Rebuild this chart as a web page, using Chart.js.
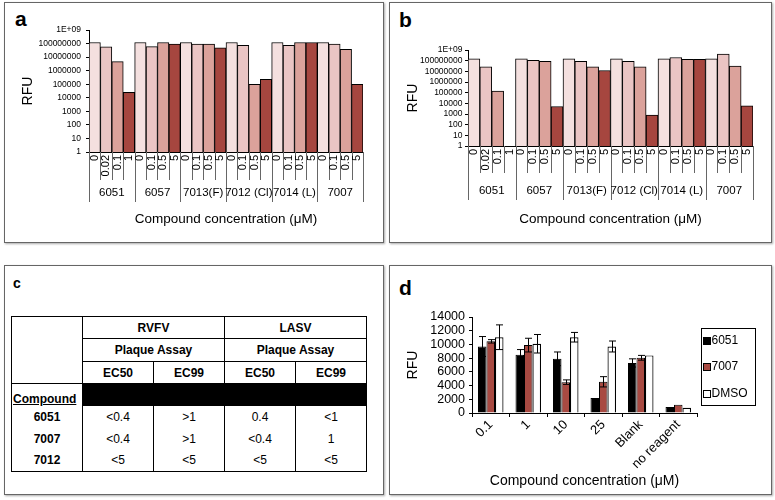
<!DOCTYPE html>
<html>
<head>
<meta charset="utf-8">
<script src="https://cdn.jsdelivr.net/npm/chart.js@4.4.1/dist/chart.umd.min.js"></script>
<style>
  body { margin: 0; width: 775px; height: 500px; overflow: hidden; background: #fff; font-family: "Liberation Sans", Arial, sans-serif; }
  .panel { position: absolute; box-sizing: border-box; border: 1px solid #666; box-shadow: 1px 1px 2px #aaa; background: #fff; }
  .letter { position: absolute; font-weight: bold; font-size: 21px; line-height: 1; }
  canvas { position: absolute; }
  #tableC { position: absolute; left: 11px; top: 316px; border-collapse: collapse; table-layout: fixed; font: bold 12px "Liberation Sans", Arial, sans-serif; }
  #tableC td { border: 1px solid #000; text-align: center; padding: 0; }
  #tableC td.val { font-weight: normal; border-top: none; border-bottom: none; }
  #tableC td.cmp { border-top: none; border-bottom: none; }
  #tableC tr.last td { border-bottom: 1px solid #000; }
  #tableC td.black { background: #000; }
  #tableC td.compound { text-decoration: underline; vertical-align: bottom; text-align: left; padding-left: 1px; border-bottom: none; }
</style>
</head>
<body>
<div class="panel" style="left:4px;top:2px;width:380px;height:241px"></div>
<div class="panel" style="left:389px;top:2px;width:383px;height:241px"></div>
<div class="panel" style="left:4px;top:265px;width:380px;height:230px"></div>
<div class="panel" style="left:389px;top:265px;width:383px;height:230px"></div>

<div class="letter" style="left:15px;top:8px">a</div>
<div class="letter" style="left:399px;top:9px">b</div>
<div class="letter" style="left:13px;top:276px;font-size:14px">c</div>
<div class="letter" style="left:399px;top:277px">d</div>

<canvas id="chartA" width="378" height="238" style="left:5px;top:3px"></canvas>
<canvas id="chartB" width="381" height="238" style="left:390px;top:3px"></canvas>
<canvas id="chartD" width="381" height="228" style="left:390px;top:266px"></canvas>
<table id="tableC"></table>

<script>
// Datos paneles a y b (escala log)
const concLabels = ['0', '0.02', '0.1', '1', '0', '0.1', '0.5', '5', '0', '0.1', '0.5', '5',
  '0', '0.1', '0.5', '5', '0', '0.1', '0.5', '5', '0', '0.1', '0.5', '5'];
const compoundGroups = ['6051', '6057', '7013(F)', '7012 (Cl)', '7014 (L)', '7007'];
const rfuA = [1.2e8, 5.8e7, 4.6e6, 2.5e4, 1.2e8, 6e7, 1.2e8, 9.3e7, 1.2e8, 9e7, 9e7, 4.8e7,
  1.2e8, 7.4e7, 9.7e4, 2.3e5, 1.2e8, 7.4e7, 1.2e8, 1.2e8, 1.2e8, 9e7, 3.8e7, 9.7e4];
const rfuB = [1.5e8, 2.7e7, 1.4e5, null, 1.5e8, 1.1e8, 8.5e7, 5e3, 1.5e8, 8.5e7, 2.7e7, 1.2e7,
  1.5e8, 8.5e7, 2.7e7, 800, 1.5e8, 2e8, 1.3e8, 1.3e8, 1.5e8, 4.2e8, 3.1e7, 5.8e3];
const logTickValues = [1, 10, 100, 1000, 1e4, 1e5, 1e6, 1e7, 1e8, 1e9];
const logTickLabels = ['1', '10', '100', '1000', '10000', '100000', '1000000', '10000000', '100000000', '1E+09'];

// Datos panel c (tabla)
const tableCompounds = ['6051', '7007', '7012'];
const rvfvEC50 = ['<0.4', '<0.4', '<5'];
const rvfvEC99 = ['>1', '>1', '<5'];
const lasvEC50 = ['0.4', '<0.4', '<5'];
const lasvEC99 = ['<1', '1', '<5'];

// Datos panel d
const dLabels = ['0.1', '1', '10', '25', 'Blank', 'no reagent'];
const d6051 = [9700, 8500, 7900, 2200, 7300, 880];
const d7007 = [10450, 9900, 4500, 4550, 8050, 1200];
const dDMSO = [11050, 10100, 11050, 9700, 8400, 750];
const e6051 = [1450, 750, 1000, 0, 600, 0];
const e7007 = [250, 1000, 330, 750, 350, 0];
const eDMSO = [1800, 1350, 700, 800, 0, 0];
const dTickValues = [0, 2000, 4000, 6000, 8000, 10000, 12000, 14000];

const FONT = '"Liberation Sans", Arial, sans-serif';
Chart.defaults.font.family = FONT;
Chart.defaults.color = '#000';

const shades = ['#f4e0df', '#eac5c4', '#dba29b', '#a6463f'];

// Eje x de dos niveles (concentración / compuesto)
const groupAxis = {
  id: 'groupAxis',
  afterDraw(chart, args, opts) {
    const { ctx, scales: { x } } = chart;
    const n = opts.sub.length;
    const half = (x.getPixelForValue(1) - x.getPixelForValue(0)) / 2;
    const top = x.top;
    ctx.save();
    ctx.strokeStyle = '#666';
    ctx.lineWidth = 1;
    for (let i = 0; i <= n; i++) {
      const px = Math.round((i < n ? x.getPixelForValue(i) - half : x.getPixelForValue(n - 1) + half)) + 0.5;
      const len = i % opts.per === 0 ? opts.groupLen : opts.subLen;
      ctx.beginPath();
      ctx.moveTo(px, top);
      ctx.lineTo(px, top + len);
      ctx.stroke();
    }
    ctx.fillStyle = '#000';
    ctx.font = `11px ${FONT}`;
    ctx.textAlign = 'right';
    ctx.textBaseline = 'middle';
    opts.sub.forEach((t, i) => {
      ctx.save();
      ctx.translate(x.getPixelForValue(i), top + 3);
      ctx.rotate(-Math.PI / 2);
      ctx.fillText(t, 0, 0);
      ctx.restore();
    });
    ctx.font = `11.5px ${FONT}`;
    ctx.textAlign = 'center';
    opts.groups.forEach((g, k) => {
      const cx = (x.getPixelForValue(k * opts.per) + x.getPixelForValue(k * opts.per + opts.per - 1)) / 2;
      ctx.fillText(g, cx, top + opts.groupY);
    });
    ctx.restore();
  }
};

const logChart = (id, values, pad, yWidth, xHeight, tickPad, ax) => new Chart(document.getElementById(id), {
  type: 'bar',
  data: {
    labels: concLabels,
    datasets: [{
      data: values,
      backgroundColor: values.map((_, i) => shades[i % 4]),
      borderColor: '#000',
      borderWidth: 1,
      barPercentage: 1,
      categoryPercentage: 1
    }]
  },
  options: {
    responsive: false,
    animation: false,
    layout: { padding: pad },
    plugins: {
      legend: { display: false },
      tooltip: { enabled: false },
      groupAxis: ax
    },
    scales: {
      x: {
        ticks: { display: false },
        grid: { display: false },
        border: { display: true, color: '#000' },
        title: { display: true, text: 'Compound concentration (μM)', font: { size: 13.5 }, padding: { top: 0, bottom: 14 } },
        afterFit: (s) => { s.height = xHeight; }
      },
      y: {
        type: 'logarithmic',
        min: 1,
        max: 1e9,
        afterBuildTicks: (s) => { s.ticks = logTickValues.map((v) => ({ value: v })); },
        ticks: {
          autoSkip: false,
          padding: tickPad,
          font: { size: 8.5, family: `"Liberation Sans Narrow", ${FONT}` },
          callback: (v) => logTickLabels[logTickValues.indexOf(v)]
        },
        grid: { drawOnChartArea: false, tickLength: 3, color: '#000' },
        border: { display: true, color: '#000' },
        title: { display: true, text: 'RFU', font: { size: 14 }, padding: { top: 14.6, bottom: 0 } },
        afterFit: (s) => { s.width = yWidth; }
      }
    }
  },
  plugins: [groupAxis]
});

logChart('chartA', rfuA, { top: 27, right: 20, left: 0, bottom: 0 }, 84, 89, 5,
  { sub: concLabels, groups: compoundGroups, per: 4, subLen: 28, groupLen: 50, groupY: 41 });
logChart('chartB', rfuB, { top: 47, right: 18, left: 0, bottom: 0 }, 78, 95, 2.5,
  { sub: concLabels, groups: compoundGroups, per: 4, subLen: 27, groupLen: 54, groupY: 45 });

// Panel c
const tableC = document.getElementById('tableC');
let html = '<col style="width:71px"><col style="width:71px"><col style="width:71px"><col style="width:71px"><col style="width:71px">';
html += '<tr style="height:22px"><td rowspan="3"></td><td colspan="2">RVFV</td><td colspan="2">LASV</td></tr>';
html += '<tr style="height:23px"><td colspan="2">Plaque Assay</td><td colspan="2">Plaque Assay</td></tr>';
html += '<tr style="height:22px"><td>EC50</td><td>EC99</td><td>EC50</td><td>EC99</td></tr>';
html += '<tr style="height:22px"><td class="compound">Compound</td><td colspan="4" class="black"></td></tr>';
tableCompounds.forEach((c, i) => {
  const last = i === tableCompounds.length - 1 ? ' class="last"' : '';
  html += `<tr${last} style="height:22px"><td class="cmp">${c}</td>` +
    [rvfvEC50[i], rvfvEC99[i], lasvEC50[i], lasvEC99[i]]
      .map((v) => `<td class="val">${v.replace('<', '&lt;').replace('>', '&gt;')}</td>`).join('') + '</tr>';
});
tableC.innerHTML = html;

// Panel d: barras de error y leyenda con marco
const errorBars = {
  id: 'errorBars',
  afterDatasetsDraw(chart, args, opts) {
    const { ctx, scales: { y } } = chart;
    ctx.save();
    ctx.strokeStyle = '#000';
    ctx.lineWidth = 1;
    opts.errors.forEach((errs, di) => {
      const vals = chart.data.datasets[di].data;
      chart.getDatasetMeta(di).data.forEach((bar, i) => {
        const e = errs[i];
        if (!e) return;
        const x = Math.round(bar.x) + 0.5;
        const yTop = y.getPixelForValue(vals[i] + e);
        const yBot = y.getPixelForValue(vals[i] - e);
        ctx.beginPath();
        ctx.moveTo(x, yTop); ctx.lineTo(x, yBot);
        ctx.moveTo(x - 3.5, yTop); ctx.lineTo(x + 3.5, yTop);
        ctx.moveTo(x - 3.5, yBot); ctx.lineTo(x + 3.5, yBot);
        ctx.stroke();
      });
    });
    ctx.restore();
  }
};

const boxLegend = {
  id: 'boxLegend',
  afterDraw(chart, args, opts) {
    const { ctx, chartArea } = chart;
    const ds = chart.data.datasets;
    const h = 2 * opts.pad + (ds.length - 1) * opts.row;
    const left = Math.round(chartArea.right + opts.gap) + 0.5;
    const top = Math.round((chartArea.top + chartArea.bottom) / 2 - h / 2 + opts.shift) + 0.5;
    ctx.save();
    ctx.strokeStyle = '#000';
    ctx.lineWidth = 1;
    ctx.strokeRect(left, top, opts.width, h);
    ctx.font = `12px ${FONT}`;
    ctx.textBaseline = 'middle';
    ctx.textAlign = 'left';
    ds.forEach((d, k) => {
      const cy = Math.round(top + opts.pad + k * opts.row);
      ctx.fillStyle = d.backgroundColor;
      ctx.fillRect(left + 2, cy - 3.5, 7, 7);
      ctx.strokeRect(left + 2, cy - 3.5, 7, 7);
      ctx.fillStyle = '#000';
      ctx.fillText(d.label, left + 10, cy);
    });
    ctx.restore();
  }
};

new Chart(document.getElementById('chartD'), {
  type: 'bar',
  data: {
    labels: dLabels,
    datasets: [
      { label: '6051', data: d6051, backgroundColor: '#000', borderColor: '#000', borderWidth: 1 },
      { label: '7007', data: d7007, backgroundColor: '#a84a42', borderColor: '#000', borderWidth: 1 },
      { label: 'DMSO', data: dDMSO, backgroundColor: '#fff', borderColor: '#000', borderWidth: 1.2 }
    ]
  },
  options: {
    responsive: false,
    animation: false,
    layout: { padding: { top: 51, right: 74, left: 0, bottom: 0 } },
    datasets: { bar: { barPercentage: 1, categoryPercentage: 0.68 } },
    plugins: {
      legend: { display: false },
      tooltip: { enabled: false },
      errorBars: { errors: [e6051, e7007, eDMSO] },
      boxLegend: { gap: 4, width: 54, pad: 12, row: 26.5, shift: 1.5 }
    },
    scales: {
      x: {
        grid: { drawOnChartArea: false, tickLength: 4, color: '#000' },
        border: { color: '#000' },
        ticks: { minRotation: 45, maxRotation: 45, autoSkip: false, padding: 0, font: { size: 13 } },
        title: { display: true, text: 'Compound concentration (μM)', font: { size: 14 }, padding: { top: 0, bottom: 4.6 } },
        afterFit: (s) => { s.height = 81; }
      },
      y: {
        min: 0,
        max: 14000,
        afterBuildTicks: (s) => { s.ticks = dTickValues.map((v) => ({ value: v })); },
        ticks: { autoSkip: false, padding: 4, font: { size: 12.5 }, callback: (v) => String(v) },
        grid: { drawOnChartArea: false, tickLength: 3, color: '#000' },
        border: { color: '#000' },
        title: { display: true, text: 'RFU', font: { size: 14 }, padding: { top: 14.6, bottom: 0 } },
        afterFit: (s) => { s.width = 82; }
      }
    }
  },
  plugins: [errorBars, boxLegend]
});
</script>
</body>
</html>
